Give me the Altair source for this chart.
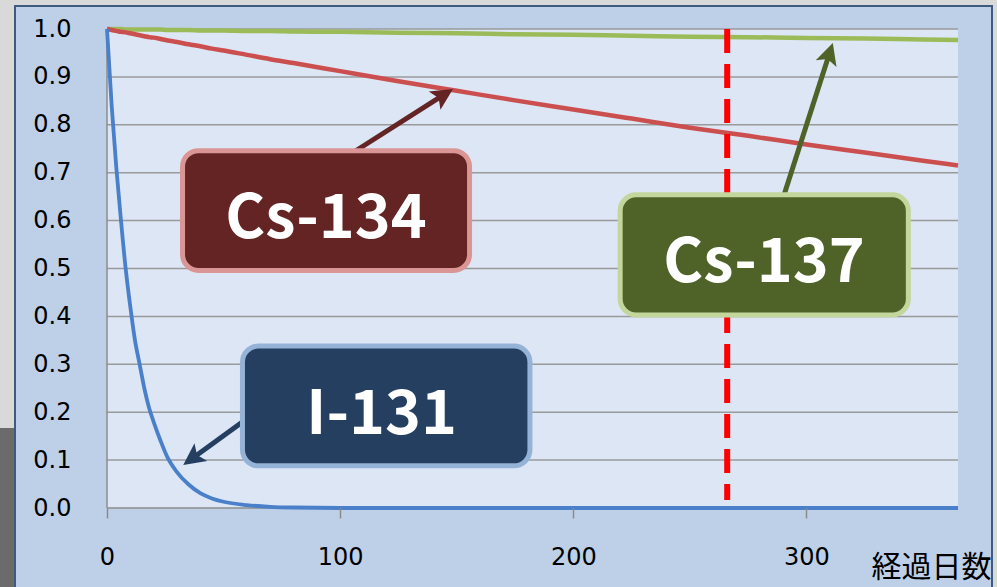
import math
import altair as alt
import pandas as pd

# ---- data -------------------------------------------------------------
DAYS = [0, 2, 4, 6, 8, 10, 12, 14, 16, 18, 20, 23, 26, 30, 35, 40, 45, 50,
        60, 70, 80, 100, 125, 150, 175, 200, 225, 250, 275, 300, 325, 350, 365]
I131 = [1.00, 0.84, 0.71, 0.60, 0.50, 0.42, 0.35, 0.30, 0.25, 0.21, 0.18,
        0.14, 0.105, 0.075, 0.049, 0.031, 0.020, 0.013,
        0.006, 0.0025, 0.001,
        0.0, 0.0, 0.0, 0.0, 0.0, 0.0, 0.0, 0.0, 0.0, 0.0, 0.0, 0.0]
CS134 = [1.000, 0.998, 0.996, 0.994, 0.993, 0.991, 0.989, 0.987, 0.985, 0.983, 0.982,
         0.979, 0.976, 0.973, 0.968, 0.964, 0.959, 0.955,
         0.946, 0.937, 0.929,
         0.912, 0.891, 0.871, 0.851, 0.832, 0.813, 0.794, 0.777, 0.759, 0.742, 0.725, 0.715]
CS137 = [1.000, 1.000, 1.000, 1.000, 0.999, 0.999, 0.999, 0.999, 0.999, 0.999, 0.999,
         0.999, 0.998, 0.998, 0.998, 0.997, 0.997, 0.997,
         0.996, 0.996, 0.995,
         0.994, 0.992, 0.991, 0.989, 0.988, 0.986, 0.984, 0.983, 0.981, 0.980, 0.978, 0.977]

MARK_DAY = [266]
X_TICKS = [0, 100, 200, 300]
Y_TICKS = [0.0, 0.1, 0.2, 0.3, 0.4, 0.5, 0.6, 0.7, 0.8, 0.9, 1.0]

LABELS = ["Cs-134", "Cs-137", "I-131"]

# ---- layout -----------------------------------------------------------
W, H = 851, 479
X_MAX = 365
PX_DAY = W / X_MAX
PX_UNIT = H

# label boxes in data units: (x, x2, y, y2)
BOXES = {
    "Cs-134": (32.4, 155.5, 0.746, 0.496),
    "Cs-137": (220.1, 343.7, 0.654, 0.403),
    "I-131": (58.1, 181.4, 0.338, 0.088),
}
TEXT_POS = {"Cs-134": (93.9, 0.564), "Cs-137": (281.8, 0.472), "I-131": (117.8, 0.155)}
FILL = {"Cs-134": "#632423", "Cs-137": "#4f6228", "I-131": "#243f60"}
EDGE = {"Cs-134": "#d99694", "Cs-137": "#c3d69b", "I-131": "#95b3d7"}
# arrows: tail -> tip, data units
ARROWS = {
    "Cs-134": ((100.5, 0.7265), (148.4, 0.875)),
    "Cs-137": ((289.0, 0.6326), (311.3, 0.971)),
    "I-131": ((65.6, 0.206), (32.7, 0.0898)),
}

x_scale = alt.Scale(domain=[0, X_MAX], nice=False, zero=True)
y_scale = alt.Scale(domain=[0, 1], nice=False, zero=True)

AXIS_X = alt.Axis(values=X_TICKS, title="経過日数", titleX=884, titleY=59,
                  titleAlign="right", titleBaseline="middle",
                  titleFont="Noto Sans CJK JP", titleFontSize=30,
                  titleFontWeight="normal", titleColor="black",
                  labelFont="DejaVu Sans", labelFontSize=24, labelColor="black",
                  labelPadding=27, tickSize=10, tickColor="#8c8c8c", tickWidth=1.5,
                  domain=False, grid=False, zindex=1, labelFlush=False,
                  labelOverlap=False)
AXIS_Y = alt.Axis(values=Y_TICKS, format=".1f", title="",
                  labelFont="DejaVu Sans", labelFontSize=24, labelColor="black",
                  labelPadding=36, ticks=False, domain=False, grid=False, zindex=1,
                  labelFlush=False, labelOverlap=False)


def X(field):
    return alt.X(field, type="quantitative", scale=x_scale, axis=AXIS_X)


def Y(field):
    return alt.Y(field, type="quantitative", scale=y_scale, axis=AXIS_Y)


one = alt.Data(values=[{}])

# slide backdrop and chart frame
corner = alt.Chart(one).mark_rect(color="#6b6b6b").encode(
    x=alt.value(-107), x2=alt.value(-92), y=alt.value(399), y2=alt.value(560))
frame = alt.Chart(one).mark_rect(fill="#bdd0e8", stroke="#3f5a7f", strokeWidth=2).encode(
    x=alt.value(-92), x2=alt.value(885), y=alt.value(-23), y2=alt.value(562))
plot_bg = alt.Chart(one).mark_rect(fill="#dce6f5").encode(
    x=alt.value(0), x2=alt.value(W), y=alt.value(0), y2=alt.value(H))

grid = alt.Chart(pd.DataFrame({"v": Y_TICKS[1:]})).mark_rule(
    color="#9a9a9a", strokeWidth=1.5).encode(
    y=Y("v"), x=alt.value(0), x2=alt.value(W))
y_line = alt.Chart(one).mark_rule(color="#8c8c8c", strokeWidth=1.5).encode(
    x=alt.value(0), y=alt.value(0), y2=alt.value(H))
x_line = alt.Chart(one).mark_rule(color="#8c8c8c", strokeWidth=1.5).encode(
    y=alt.value(H), x=alt.value(0), x2=alt.value(W))


def curve(values, color, width):
    df = pd.DataFrame({"day": DAYS, "ratio": values})
    return alt.Chart(df).mark_line(color=color, strokeWidth=width,
                                   interpolate="monotone").encode(
        x=X("day"), y=Y("ratio"))


green = curve(CS137, "#9bbb59", 4.5)
red = curve(CS134, "#cc4f4f", 4.5)
blue = curve(I131, "#4a7fc9", 3.8)

marker = alt.Chart(pd.DataFrame({"day": MARK_DAY})).mark_rule(
    color="#ff0000", strokeWidth=6, strokeDash=[24, 11]).encode(
    x=X("day"), y=alt.value(0), y2=alt.value(H - 8))

# arrows
rows_line, rows_head = [], []
for name in LABELS:
    (tx, ty), (hx, hy) = ARROWS[name]
    dx = (hx - tx) * PX_DAY
    dy = -(hy - ty) * PX_UNIT
    length = math.hypot(dx, dy)
    ux, uy = dx / length, dy / length
    back = 14
    ex = hx - back * ux / PX_DAY
    ey = hy + back * uy / PX_UNIT
    angle = math.degrees(math.atan2(dx, -dy)) % 360
    rows_line.append({"x": tx, "y": ty, "x2": ex, "y2": ey, "c": FILL[name]})
    rows_head.append({"x": hx, "y": hy, "angle": angle, "c": FILL[name]})

arrow_lines = alt.Chart(pd.DataFrame(rows_line)).mark_rule(strokeWidth=5).encode(
    x=X("x"), y=Y("y"), x2="x2:Q", y2="y2:Q", color=alt.Color("c:N", scale=None))
HEAD = "M0,0 L-0.5,1 L0,0.78 L0.5,1 Z"
arrow_heads = alt.Chart(pd.DataFrame(rows_head)).mark_point(
    shape=HEAD, filled=True, size=1900, opacity=1, strokeWidth=0).encode(
    x=X("x"), y=Y("y"), angle=alt.Angle("angle:Q", scale=None),
    color=alt.Color("c:N", scale=None))

# label boxes
box_df = pd.DataFrame([
    {"name": n, "x": BOXES[n][0], "x2": BOXES[n][1], "y": BOXES[n][2], "y2": BOXES[n][3],
     "fill": FILL[n], "edge": EDGE[n], "tx": TEXT_POS[n][0], "ty": TEXT_POS[n][1]}
    for n in LABELS])
boxes = alt.Chart(box_df).mark_rect(cornerRadius=16, strokeWidth=5).encode(
    x=X("x"), x2="x2:Q", y=Y("y"), y2="y2:Q",
    fill=alt.Fill("fill:N", scale=None), stroke=alt.Stroke("edge:N", scale=None))
box_text = alt.Chart(box_df).mark_text(
    font="Noto Sans CJK JP", fontWeight="bold", fontSize=61, color="white",
    align="center", baseline="alphabetic").encode(
    x=X("tx"), y=Y("ty"), text="name:N")

chart = alt.layer(
    corner, frame, plot_bg, grid, y_line, x_line,
    green, red, blue, marker, arrow_lines, arrow_heads, boxes, box_text,
).properties(
    width=W, height=H,
    autosize=alt.AutoSizeParams(type="none"),
    padding={"left": 107, "top": 29, "right": 39, "bottom": 79},
).configure(background="#d9d9d9").configure_view(strokeWidth=0)

chart.save("out.html", embed_options={"renderer": "svg", "actions": False})
